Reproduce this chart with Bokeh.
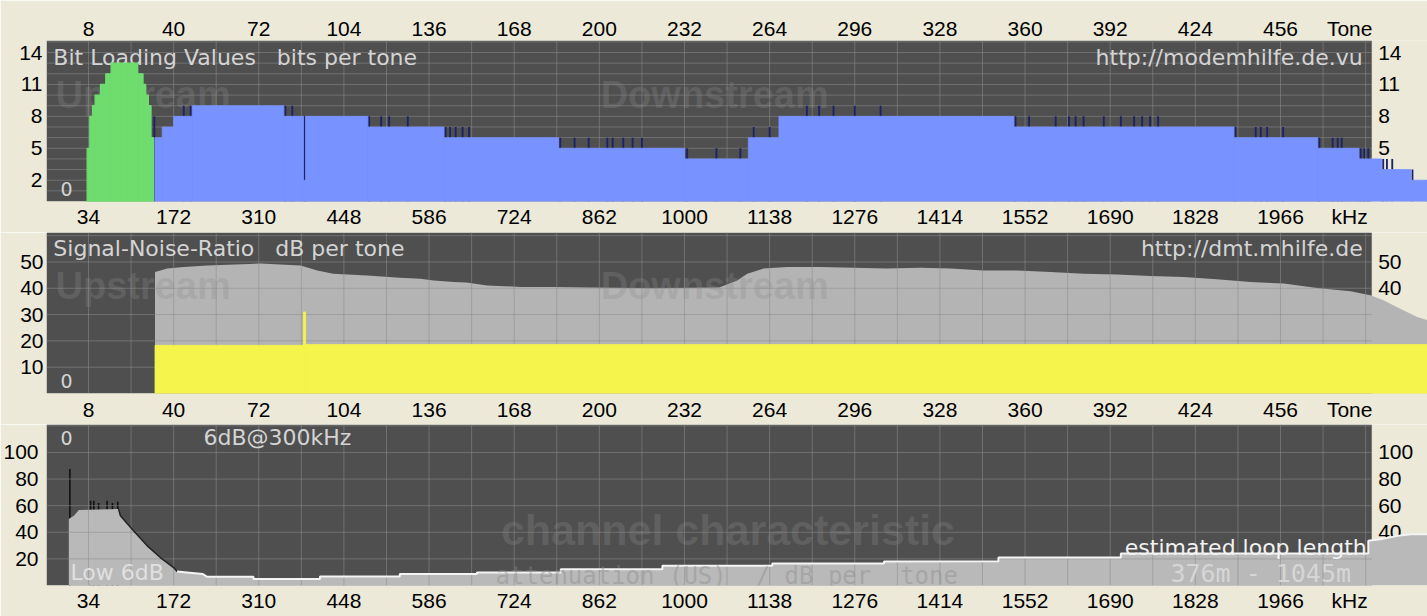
from bokeh.plotting import figure
from bokeh.layouts import column
from bokeh.models import Range1d, LinearAxis, FixedTicker, BoxAnnotation
from bokeh.core.properties import value
from bokeh.embed import file_html
from bokeh.resources import INLINE

# ---------------- data ----------------
tone_ticks = [8, 40, 72, 104, 136, 168, 200, 232, 264, 296, 328, 360, 392, 424, 456]
khz_labels = ["34", "172", "310", "448", "586", "724", "862", "1000", "1138",
              "1276", "1414", "1552", "1690", "1828", "1966"]
tone_unit_label = "Tone"
khz_unit_label = "kHz"
tone_grid = [8, 24, 40, 56, 72, 88, 104, 120, 136, 152, 168, 184, 200, 216, 232, 248,
             264, 280, 296, 312, 328, 344, 360, 376, 392, 408, 424, 440, 456, 472, 488]

bit_ticks = [2, 5, 8, 11, 14]
bit_grid = [1, 2, 3, 4, 5, 6, 7, 8, 9, 10, 11, 12, 13, 14, 15]
snr_ticks = [10, 20, 30, 40, 50]
snr_grid = [10, 20, 30, 40, 50, 60]
att_ticks = [20, 40, 60, 80, 100]
att_grid = [20, 40, 60, 80, 100, 120]

# upstream bit loading (green), one value per tone
us_tones = [8, 9, 10, 11, 12, 13, 14, 15, 16, 17, 18, 19, 20, 21, 22, 23, 24, 25, 26,
            27, 28, 29, 30, 31, 32]
us_bits = [5, 8, 9, 10, 10, 11, 11, 12, 12, 13, 13, 13, 13, 13, 13, 13, 13, 13, 13,
           12, 12, 11, 10, 9, 6]

# downstream bit loading (blue), runs of equal bits: first tone, last tone, bits
ds_seg_start = [33, 35.7, 40, 47, 81.4, 88.8, 89.6, 113, 141.6, 184.7, 232, 256, 267.5,
                355.8, 438.5, 470, 485.5, 494, 505]
ds_seg_end = [35.7, 40, 47, 81.4, 88.8, 89.6, 113, 141.6, 184.7, 232, 256, 267.5, 355.8,
              438.5, 470, 485.5, 494, 505, 511.5]
ds_seg_bits = [6, 7, 8, 9, 8, 2, 8, 7, 6, 5, 4, 6, 8, 7, 6, 5, 4, 3, 2]

# single tones drawn as dark marks (bit swaps), tone and bits
ds_mark_tone = [32.75, 43.8, 46.4, 82.0, 84.6, 89.2, 113.5, 118, 121, 128, 142.2, 143.9,
                146, 148.6, 151, 185.3, 190.7, 196, 203, 205, 209, 212.5, 216, 233, 244,
                253, 258, 264, 278, 282.6, 288, 296, 305.7, 356.4, 361.5, 371.5, 376.5,
                379, 382, 389.6, 396, 401, 404, 407, 410, 439.1, 446.7, 448.6, 451, 457,
                470.6, 475.6, 477.5, 479, 486.1, 487.5, 489, 494.6, 496, 498, 505.6, 511]
ds_mark_bits = [8, 9, 9, 9, 9, 8, 8, 8, 8, 8, 7, 7,
                7, 7, 7, 6, 6, 6, 6, 6, 6, 6, 6, 5, 5,
                5, 7, 7, 9, 9, 9, 9, 9, 8, 8, 8, 8,
                8, 8, 8, 8, 8, 8, 8, 8, 7, 7, 7, 7, 7,
                6, 6, 6, 6, 5, 5, 5, 4, 4, 4, 3, 2]

# signal-noise ratio (grey), dB
snr_tone = [33, 37.6, 43.8, 52.6, 72.6, 87.7, 94, 100, 112.7, 125, 132.8, 137.7, 145.3,
            150, 157.9, 170.4, 182.9, 195.4, 220, 245, 251.8, 255.6, 261.8, 270.6, 283,
            295.5, 308, 320.7, 332, 344.4, 357, 369.6, 382, 394.6, 407, 419.6, 432,
            444.7, 457.2, 469.8, 482.3, 489.8, 494.7, 501, 507.4, 511.5]
snr_db = [46.2, 47.5, 48.1, 48.7, 49.4, 48.7, 46.8, 45.5, 44.9, 44.0, 43.6, 43.0, 42.4,
          42.2, 41.1, 40.5, 40.5, 40.3, 40.0, 40.3, 43.0, 45.5, 47.5, 48.1, 48.1,
          47.8, 47.5, 47.8, 47.5, 46.8, 46.8, 46.2, 45.5, 45.2, 44.7, 44.3, 43.4,
          42.4, 41.8, 40.1, 38.9, 37.3, 35.4, 32.2, 29.1, 27.8]

# yellow band, runs: first tone, last tone, dB
yel_start = [33, 88.8, 89.6]
yel_end = [88.8, 89.6, 511.5]
yel_db = [18.3, 31.0, 18.6]

# channel characteristic / attenuation (grey area), dB
att_tone = [0.6, 2.5, 4.4, 19.3, 20, 25, 30, 35, 40, 41.3, 45, 51, 52.6, 70, 70, 95, 95,
            125, 125, 154, 154, 185.5, 185.5, 223.7, 223.7, 265, 265, 307, 307, 350, 350,
            396, 396, 489, 489, 494, 500, 505, 511.5]
att_db = [50, 52.4, 56.7, 57.4, 52.4, 41, 30, 21, 13.5, 10.5, 9.8, 8.6, 6.5, 6.5, 4.8,
          4.8, 6.8, 6.8, 8.6, 8.6, 9.8, 9.8, 12.3, 12.3, 14.8, 14.8, 16.5, 16.5, 18, 18.3,
          21, 21, 24, 24, 33.6, 35, 37.3, 38.6, 38.6]
att_mark_tone = [1.0, 8.8, 10, 11.8, 15, 17, 19.0]
att_mark_db = [87.5, 63.7, 63.7, 62, 63.7, 62, 63]

# ---------------- layout / style ----------------
W = 1427
X_LEFT, X_RIGHT = -7.78, 511.25
PANEL_RIGHT = 490.3
UNIT_TICK = 482
RIGHT_LABEL_X = 492.7
BG = "#ece9d8"
PANEL = "#4f4f4f"
GRID = "#8c8c8c"
TXT = "#d4d4d4"
WM = "#8c8c8c"
BLUE = "#7893ff"
GREEN = "#6edc6e"
NAVY = "#1b2268"
SNR_GREY = "#b4b4b4"
YELLOW = "#f4f44c"
ATT_GREY = "#b9b9b9"
FONT = "DejaVu Sans"
TICK_FONT = "Liberation Sans"
SP3 = "\u00a0\u00a0\u00a0"
SP2 = "\u00a0\u00a0"


def style_axis(ax, standoff=4):
    ax.axis_line_color = None
    ax.major_tick_line_color = None
    ax.minor_tick_line_color = None
    ax.major_tick_out = 0
    ax.major_tick_in = 0
    ax.minor_tick_out = 0
    ax.minor_tick_in = 0
    ax.major_label_standoff = standoff
    ax.major_label_text_font = TICK_FONT
    ax.major_label_text_font_size = "21px"
    ax.major_label_text_color = "#000000"


def tone_axis(standoff):
    ov = {t: str(t) for t in tone_ticks}
    ov[UNIT_TICK] = tone_unit_label
    ax = LinearAxis(ticker=FixedTicker(ticks=tone_ticks + [UNIT_TICK]), major_label_overrides=ov)
    style_axis(ax, standoff)
    return ax


def khz_axis(standoff):
    ov = {t: k for t, k in zip(tone_ticks, khz_labels)}
    ov[UNIT_TICK] = khz_unit_label
    ax = LinearAxis(ticker=FixedTicker(ticks=tone_ticks + [UNIT_TICK]), major_label_overrides=ov)
    style_axis(ax, standoff)
    return ax


def make_fig(height, ymax, ticks, top_border, bottom_border, left_standoff):
    p = figure(width=W, height=height, x_range=Range1d(X_LEFT, X_RIGHT),
               y_range=Range1d(0, ymax), output_backend="svg", toolbar_location=None,
               x_axis_location=None, y_axis_location="left",
               min_border_top=top_border, min_border_bottom=bottom_border,
               min_border_left=46, min_border_right=0,
               background_fill_color=BG, border_fill_color=BG, outline_line_color=None)
    p.grid.visible = False
    p.yaxis.ticker = FixedTicker(ticks=ticks)
    style_axis(p.yaxis[0], left_standoff)
    p.add_layout(BoxAnnotation(left=X_LEFT, right=PANEL_RIGHT, bottom=0, top=ymax,
                               fill_color=PANEL, fill_alpha=1.0, line_color=None,
                               level="underlay"))
    return p


def grid(p, ys, ymax):
    p.segment(x0=tone_grid, y0=[0] * len(tone_grid), x1=tone_grid, y1=[ymax] * len(tone_grid),
              line_color=GRID, line_alpha=0.55, line_width=1)
    p.segment(x0=[X_LEFT] * len(ys), y0=ys, x1=[PANEL_RIGHT] * len(ys), y1=ys,
              line_color=GRID, line_alpha=0.55, line_width=1)


def txt(p, x, y, s, size="22px", color=TXT, align="left", font=FONT, style="normal", alpha=1.0):
    p.text(x=[x], y=[y], text=[s], text_font=value(font), text_font_size=size,
           text_font_style=style, text_color=color, text_alpha=alpha,
           text_align=align, text_baseline="middle")


def right_labels(p, ticks):
    p.text(x=[RIGHT_LABEL_X] * len(ticks), y=ticks, text=[str(t) for t in ticks],
           text_font=value(TICK_FONT), text_font_size="21px", text_color="#000000",
           text_align="left", text_baseline="middle")


# ---------- panel 1: bit loading ----------
Y1 = 15.13
p1 = make_fig(232, Y1, bit_ticks, 40, 31, 4)
p1.add_layout(tone_axis(1), "above")
p1.add_layout(khz_axis(3), "below")
txt(p1, -4.4, 10.0, "Upstream", size="38px", color=WM, font=TICK_FONT, style="bold", alpha=0.28)
txt(p1, 200.5, 10.0, "Downstream", size="38px", color=WM, font=TICK_FONT, style="bold", alpha=0.28)
grid(p1, bit_grid, Y1)
right_labels(p1, bit_ticks)
txt(p1, -5.2, 13.5, "Bit Loading Values" + SP3 + "bits per tone")
txt(p1, 486.9, 13.5, "http://modemhilfe.de.vu", align="right")
txt(p1, -2.5, 1.2, "0", size="19px")
p1.vbar(x=ds_mark_tone, top=ds_mark_bits, bottom=0, width=0.7, fill_color=NAVY, line_color=None)
p1.vbar(x=us_tones, top=us_bits, bottom=0, width=1.0, fill_color=GREEN,
        line_color=GREEN, line_width=1.3)
p1.quad(left=ds_seg_start, right=ds_seg_end, bottom=0, top=ds_seg_bits,
        fill_color=BLUE, line_color=BLUE, line_width=0.8)

# ---------- panel 2: signal-noise ratio ----------
Y2 = 61.2
p2 = make_fig(192, Y2, snr_ticks, 0, 31, 3)
p2.add_layout(tone_axis(4), "below")
right_labels(p2, snr_ticks)
p2.varea(x=snr_tone, y1=0, y2=snr_db, fill_color=SNR_GREY)
grid(p2, snr_grid, Y2)
p2.quad(left=yel_start, right=yel_end, bottom=0, top=yel_db, fill_color=YELLOW,
        line_color=YELLOW, line_width=0.8)
txt(p2, -4.4, 40.7, "Upstream", size="38px", color=WM, font=TICK_FONT, style="bold", alpha=0.28)
txt(p2, 200.5, 40.7, "Downstream", size="38px", color=WM, font=TICK_FONT, style="bold", alpha=0.28)
txt(p2, -5.2, 55.1, "Signal-Noise-Ratio" + SP3 + "dB per tone")
txt(p2, 486.9, 55.1, "http://dmt.mhilfe.de", align="right")
txt(p2, -2.5, 4.9, "0", size="19px")

# ---------- panel 3: channel characteristic ----------
Y3 = 121
p3 = make_fig(192, Y3, att_ticks, 0, 31, 8)
p3.add_layout(khz_axis(3), "below")
right_labels(p3, att_ticks)
p3.segment(x0=att_mark_tone, y0=[0] * len(att_mark_tone), x1=att_mark_tone, y1=att_mark_db,
           line_color="#111111", line_width=1.6)
p3.varea(x=att_tone, y1=0, y2=att_db, fill_color=ATT_GREY)
grid(p3, att_grid, Y3)
p3.line(x=att_tone[3:10], y=att_db[3:10], line_color="#222222", line_width=1.5)
p3.line(x=att_tone[9:], y=att_db[9:], line_color="#f4f4f4", line_width=2)
txt(p3, 163, 42, "channel characteristic", size="43px", color=WM, font=TICK_FONT,
    style="bold", alpha=0.28)
txt(p3, 161, 7.5, "attenuation (US)" + SP2 + "/ dB per" + SP2 + "tone", size="24px", color=WM,
    font="DejaVu Sans Mono", alpha=0.45)
txt(p3, -2.5, 111, "0", size="19px")
txt(p3, 51.2, 111, "6dB@300kHz")
txt(p3, 1.2, 9.8, "Low 6dB", color="#e0e0e0")
txt(p3, 488.4, 28.6, "estimated loop length", color="#f2f2f2", align="right")
txt(p3, 482.5, 9.0, "376m - 1045m", size="25px", color="#d6d6d6", align="right",
    font="DejaVu Sans Mono")

layout = column(p1, p2, p3)
html = file_html(layout, INLINE, title="DMT")
html = html.replace("<body>", '<body style="margin:0;background:#ece9d8;overflow:hidden;">', 1)
open("out.html", "w").write(html)
